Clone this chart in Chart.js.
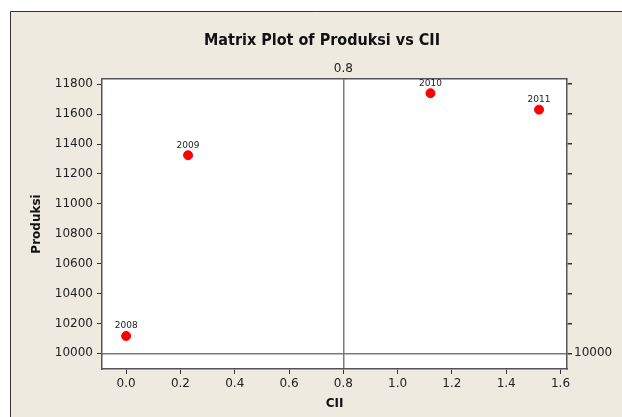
<!DOCTYPE html>
<html>
<head>
<meta charset="utf-8">
<script src="https://cdn.jsdelivr.net/npm/chart.js@4.4.1/dist/chart.umd.min.js"></script>
<style>
  html, body { margin: 0; padding: 0; background: #fff; }
  canvas { display: block; }
</style>
</head>
<body>
<canvas id="chart" width="622" height="417"></canvas>
<script>
const years = ['2008', '2009', '2010', '2011'];
const cii = [0.0, 0.228, 1.121, 1.521];
const produksi = [10116, 11325, 11740, 11630];
const xTicks = [0.0, 0.2, 0.4, 0.6, 0.8, 1.0, 1.2, 1.4, 1.6];
const yTicks = [10000, 10200, 10400, 10600, 10800, 11000, 11200, 11400, 11600, 11800];
const refX = 0.8;
const refY = 10000;

const tickFont = { family: 'DejaVu Sans', size: 12 };
const borderCol = '#555';
const refCol = '#7a7a7a';

const frame = {
  id: 'frame',
  beforeDraw(chart) {
    const { ctx, chartArea: a } = chart;
    ctx.save();
    ctx.fillStyle = '#fff';
    ctx.fillRect(0, 0, chart.width, chart.height);
    ctx.fillStyle = '#eeeae0';
    ctx.fillRect(10, 11, chart.width - 10, chart.height - 11);
    ctx.strokeStyle = '#333';
    ctx.lineWidth = 1;
    ctx.beginPath();
    ctx.moveTo(10.5, chart.height);
    ctx.lineTo(10.5, 11.5);
    ctx.lineTo(chart.width, 11.5);
    ctx.stroke();
    ctx.fillStyle = '#fff';
    ctx.fillRect(a.left, a.top, a.right - a.left, a.bottom - a.top);
    ctx.fillStyle = '#111';
    ctx.font = 'bold 16px "DejaVu Sans Condensed", "DejaVu Sans"';
    ctx.textAlign = 'center';
    ctx.textBaseline = 'middle';
    ctx.fillText('Matrix Plot of Produksi vs CII', 322, 41);
    ctx.restore();
  },
  afterDatasetsDraw(chart) {
    const { ctx } = chart;
    const pts = chart.getDatasetMeta(0).data;
    ctx.save();
    ctx.fillStyle = '#222';
    ctx.font = '9px "DejaVu Sans"';
    ctx.textAlign = 'center';
    ctx.textBaseline = 'middle';
    pts.forEach((p, i) => ctx.fillText(years[i], p.x, p.y - 10));
    ctx.restore();
  }
};

new Chart(document.getElementById('chart'), {
  type: 'scatter',
  data: {
    datasets: [{
      data: cii.map((v, i) => ({ x: v, y: produksi[i] })),
      backgroundColor: '#ff0000',
      borderColor: '#ff0000',
      pointRadius: 4.5,
      pointHoverRadius: 4.5
    }]
  },
  plugins: [frame],
  options: {
    responsive: false,
    devicePixelRatio: 1,
    animation: false,
    plugins: { legend: { display: false }, tooltip: { enabled: false } },
    layout: { padding: 0 },
    scales: {
      x: {
        type: 'linear',
        position: 'bottom',
        min: -0.089,
        max: 1.624,
        afterBuildTicks: s => { s.ticks = xTicks.map(v => ({ value: v })); },
        afterFit: s => { s.height = 48; },
        ticks: { font: tickFont, color: '#222', padding: 3, callback: v => v.toFixed(1) },
        grid: { drawOnChartArea: false, tickLength: 5, tickColor: '#333' },
        border: { color: borderCol, width: 1.5 },
        title: { display: true, text: 'CII', font: { family: 'DejaVu Sans', size: 12, weight: 'bold' }, color: '#111', padding: { top: 0, bottom: 6 } }
      },
      xTop: {
        type: 'linear',
        position: 'top',
        min: -0.089,
        max: 1.624,
        afterBuildTicks: s => { s.ticks = [{ value: refX }]; },
        afterFit: s => { s.height = 79; },
        ticks: { font: tickFont, color: '#222', padding: 3, callback: v => v.toFixed(1) },
        grid: { drawTicks: false, color: refCol, lineWidth: 1.5 },
        border: { color: borderCol, width: 1.5 }
      },
      y: {
        type: 'linear',
        position: 'left',
        min: 9895,
        max: 11835,
        afterBuildTicks: s => { s.ticks = yTicks.map(v => ({ value: v })); },
        afterFit: s => { s.width = 102; },
        ticks: { font: tickFont, color: '#222', padding: 4, callback: v => String(v) },
        grid: { drawOnChartArea: false, tickLength: 5, tickColor: '#333' },
        border: { color: borderCol, width: 1.5 },
        title: { display: true, text: 'Produksi', font: { family: 'DejaVu Sans', size: 12, weight: 'bold' }, color: '#111', padding: { top: 30, bottom: 0 } }
      },
      yRight: {
        type: 'linear',
        position: 'right',
        min: 9895,
        max: 11835,
        afterBuildTicks: s => { s.ticks = yTicks.map(v => ({ value: v })); },
        afterFit: s => { s.width = 55; },
        ticks: { font: tickFont, color: '#222', padding: 2, callback: v => (v === refY ? String(refY) : '') },
        grid: {
          tickLength: 5,
          tickColor: '#333',
          lineWidth: 1.5,
          color: c => (c.tick && c.tick.value === refY ? refCol : 'rgba(0,0,0,0)')
        },
        border: { color: borderCol, width: 1.5 }
      }
    }
  }
});
</script>
</body>
</html>
